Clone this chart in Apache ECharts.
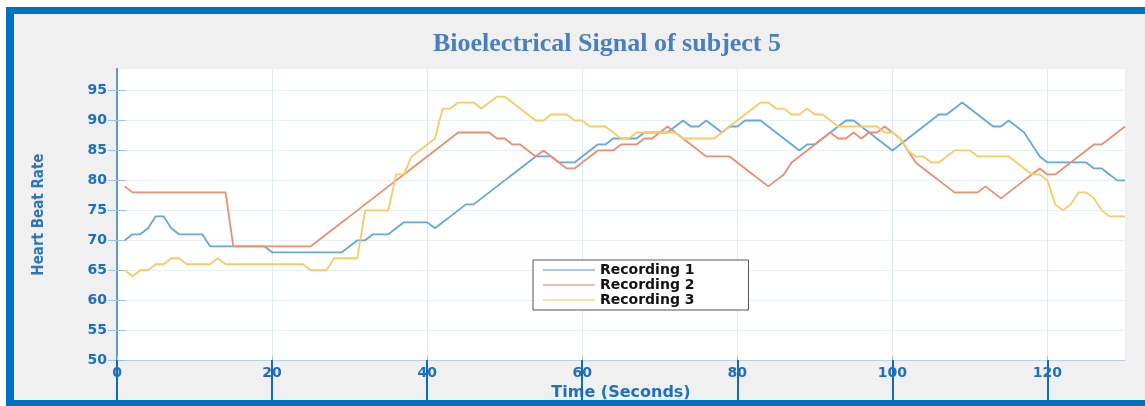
<!DOCTYPE html>
<html><head><meta charset="utf-8">
<script src="https://cdn.jsdelivr.net/npm/echarts@6/dist/echarts.min.js"></script>
<style>html,body{margin:0;padding:0;background:#fff}#c{width:1145px;height:406px}</style>
</head><body><div id="c"></div>
<script>
// time of first sample (seconds) and sampling step
const timeStart = 1;
const timeStep = 1;
const seriesNames = ['Recording 1', 'Recording 2', 'Recording 3'];
const recording1 = [70,71,71,72,74,74,72,71,71,71,
 71,69,69,69,69,69,69,69,69,68,
 68,68,68,68,68,68,68,68,68,69,
 70,70,71,71,71,72,73,73,73,73,
 72,73,74,75,76,76,77,78,79,80,
 81,82,83,84,84,84,83,83,83,84,
 85,86,86,87,87,87,87,88,88,88,
 88,89,90,89,89,90,89,88,89,89,
 90,90,90,89,88,87,86,85,86,86,
 87,88,89,90,90,89,88,87,86,85,
 86,87,88,89,90,91,91,92,93,92,
 91,90,89,89,90,89,88,86,84,83,
 83,83,83,83,83,82,82,81,80,80];
const recording2 = [79,78,78,78,78,78,78,78,78,78,
 78,78,78,78,69,69,69,69,69,69,
 69,69,69,69,69,70,71,72,73,74,
 75,76,77,78,79,80,81,82,83,84,
 85,86,87,88,88,88,88,88,87,87,
 86,86,85,84,85,84,83,82,82,83,
 84,85,85,85,86,86,86,87,87,88,
 89,88,87,86,85,84,84,84,84,83,
 82,81,80,79,80,81,83,84,85,86,
 87,88,87,87,88,87,88,88,89,88,
 87,85,83,82,81,80,79,78,78,78,
 78,79,78,77,78,79,80,81,82,81,
 81,82,83,84,85,86,86,87,88,89];
const recording3 = [65,64,65,65,66,66,67,67,66,66,
 66,66,67,66,66,66,66,66,66,66,
 66,66,66,66,65,65,65,67,67,67,
 67,75,75,75,75,81,81,84,85,86,
 87,92,92,93,93,93,92,93,94,94,
 93,92,91,90,90,91,91,91,90,90,
 89,89,89,88,87,87,88,88,88,88,
 88,88,87,87,87,87,87,88,89,90,
 91,92,93,93,92,92,91,91,92,91,
 91,90,89,89,89,89,89,89,88,88,
 87,85,84,84,83,83,84,85,85,85,
 84,84,84,84,84,83,82,81,81,80,
 76,75,76,78,78,77,75,74,74,74];
const xTicks = [0, 20, 40, 60, 80, 100, 120];
const yTicks = [50, 55, 60, 65, 70, 75, 80, 85, 90, 95];

function toPairs(vals) { return vals.map((v, i) => [timeStart + i * timeStep, v]); }

const colors = ['#64A9DA', '#EC8E70', '#F7CC66'];
const tickFont = { color: '#1E6FBF', fontFamily: 'DejaVu Sans', fontWeight: 'bold', fontSize: 14 };

const chart = echarts.init(document.getElementById('c'), null, { renderer: 'canvas' });
chart.setOption({
  animation: false,
  backgroundColor: '#F0F0F0',
  color: colors,
  graphic: [
    { type: 'rect', shape: { x: 0, y: 0, width: 1145, height: 7 }, style: { fill: '#ffffff' } },
    { type: 'rect', shape: { x: 0, y: 0, width: 6, height: 406 }, style: { fill: '#ffffff' } },
    { type: 'rect', shape: { x: 6, y: 7, width: 1139, height: 7 }, style: { fill: '#0070C0' } },
    { type: 'rect', shape: { x: 6, y: 7, width: 8, height: 399 }, style: { fill: '#0070C0' } },
    { type: 'rect', shape: { x: 6, y: 400, width: 1139, height: 6 }, style: { fill: '#0070C0' } }
  ],
  title: {
    text: 'Bioelectrical Signal of subject 5',
    left: 602, top: 26, textAlign: 'center',
    textStyle: { fontFamily: 'Liberation Serif', fontWeight: 'bold', fontSize: 26, color: '#4A7EBF' }
  },
  grid: { left: 117, right: 20, top: 69, bottom: 45, show: true, backgroundColor: '#ffffff', borderWidth: 0 },
  legend: {
    data: seriesNames.map(n => ({ name: n, icon: 'rect' })),
    orient: 'vertical', left: 533, top: 260,
    itemWidth: 52, itemHeight: 2, itemGap: 1,
    padding: [3, 54, 3, 10],
    backgroundColor: '#ffffff', borderColor: '#555555', borderWidth: 1, borderRadius: 0,
    itemStyle: { opacity: 0.6 },
    textStyle: { fontFamily: 'DejaVu Sans', fontWeight: 'bold', fontSize: 14, color: '#111111' }
  },
  xAxis: [{
    type: 'value', min: 0, max: 130, interval: 20, position: 'bottom',
    name: 'Time (Seconds)', nameLocation: 'middle', nameGap: 21,
    nameTextStyle: { color: '#1E6FBF', fontFamily: 'DejaVu Sans', fontWeight: 'bold', fontSize: 16 },
    axisLine: { show: true, lineStyle: { color: '#B8D1EA', width: 1 } },
    axisTick: { show: true, inside: false, length: 40, customValues: xTicks, lineStyle: { color: '#1469B8', width: 2 } },
    axisLabel: Object.assign({ margin: 6, customValues: xTicks }, tickFont),
    splitLine: { show: true, lineStyle: { color: '#DDEBF7', width: 1 } }
  }, {
    type: 'value', min: 0, max: 130, interval: 20, position: 'bottom',
    axisLine: { show: false },
    axisTick: { show: true, inside: true, length: 4, customValues: xTicks, lineStyle: { color: '#9CC3E6', width: 1 } },
    axisLabel: { show: false },
    splitLine: { show: false }
  }],
  yAxis: [{
    type: 'value', min: 50, max: 98.6, interval: 5,
    name: 'Heart Beat Rate', nameLocation: 'middle', nameGap: 70, nameRotate: 90,
    nameTextStyle: { color: '#2E75B6', fontFamily: "'DejaVu Sans Condensed', 'Liberation Sans Narrow', 'Liberation Sans', sans-serif", fontWeight: 'bold', fontSize: 15 },
    axisLine: { show: true, lineStyle: { color: '#5B9BD5', width: 2 } },
    axisTick: { show: true, inside: true, length: 9, customValues: yTicks, lineStyle: { color: '#9CC3E6', width: 1 } },
    axisLabel: Object.assign({ margin: 10, customValues: yTicks }, tickFont),
    splitLine: { show: true, lineStyle: { color: '#E6F0F9', width: 1 } }
  }, {
    type: 'value', min: 50, max: 98.6, interval: 5, position: 'right',
    axisLine: { show: true, lineStyle: { color: '#5B9BD5', width: 2 } },
    axisTick: { show: true, inside: true, length: 9, customValues: yTicks, lineStyle: { color: '#9CC3E6', width: 1 } },
    axisLabel: { show: false },
    splitLine: { show: false }
  }],
  series: [recording1, recording2, recording3].map((vals, k) => ({
    name: seriesNames[k], type: 'line', symbol: 'none', showSymbol: false,
    xAxisIndex: 0, yAxisIndex: 0,
    lineStyle: { width: 1.8, color: colors[k] },
    itemStyle: { color: colors[k] },
    data: toPairs(vals)
  }))
});
</script></body></html>
